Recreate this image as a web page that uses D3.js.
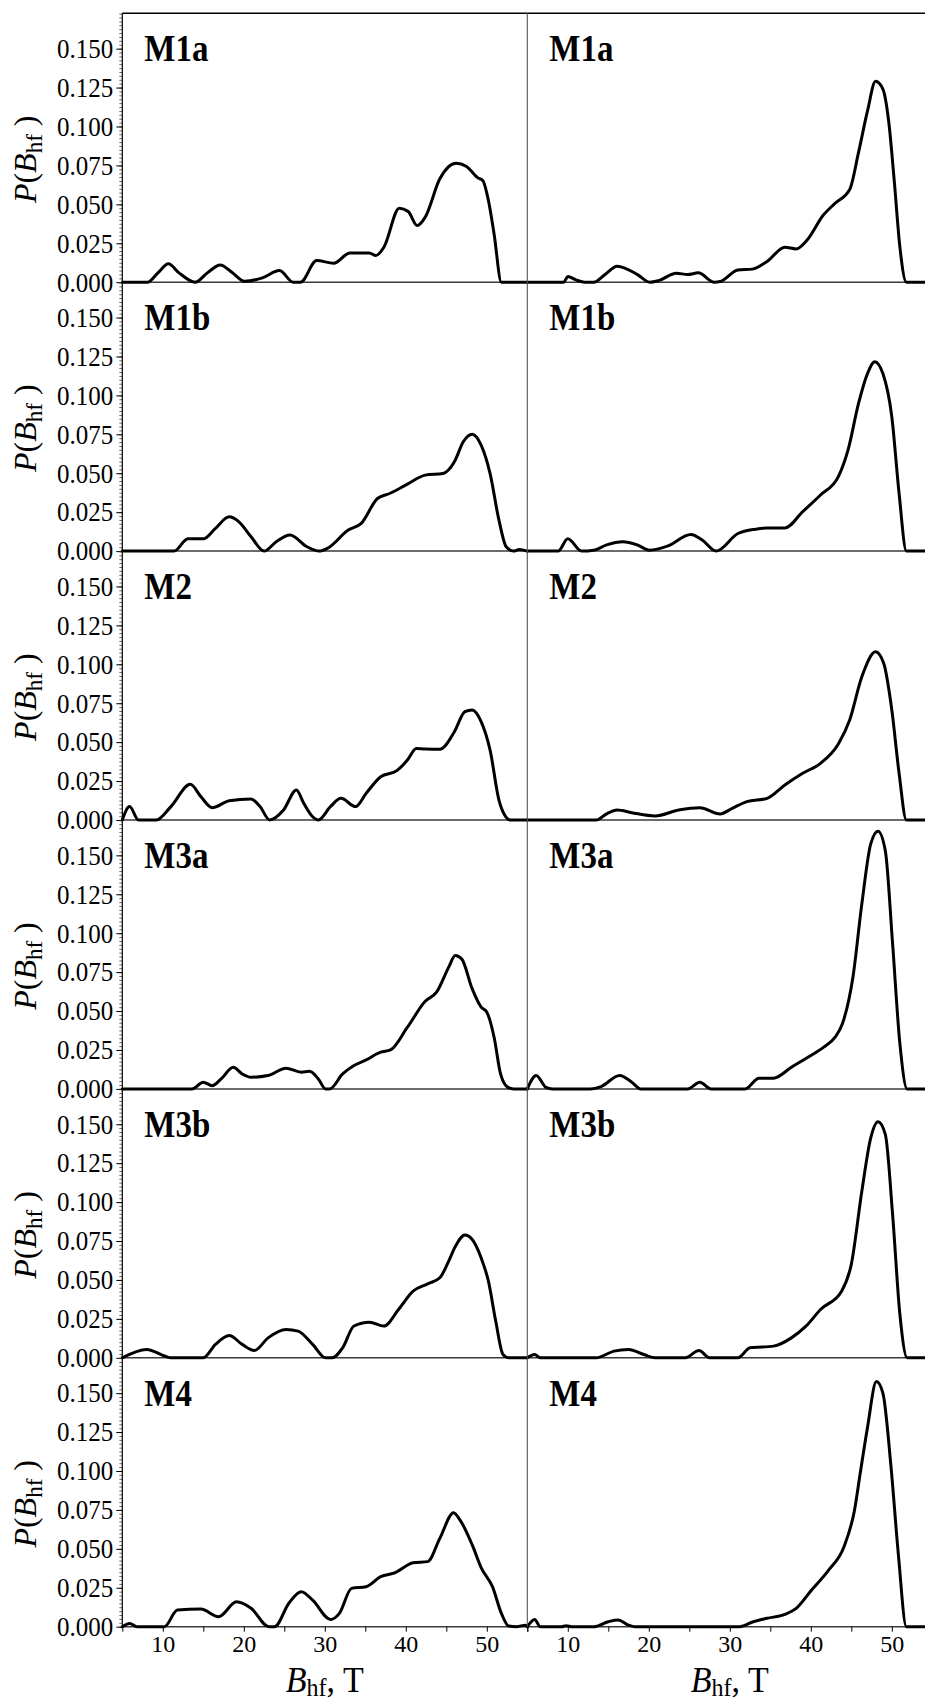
<!DOCTYPE html>
<html>
<head>
<meta charset="utf-8">
<script src="https://cdn.jsdelivr.net/npm/d3@7"></script>
<style>
  html, body { margin: 0; padding: 0; background: #fff; }
  svg { display: block; }
  text { font-family: "Liberation Serif", "Times New Roman", serif; fill: #000; }
</style>
</head>
<body>
<script>
// Hyperfine field distributions P(Bhf): six samples, two spectra each.
const panelLabels = ["M1a", "M1b", "M2", "M3a", "M3b", "M4"];

const yTickValues = [0, 0.025, 0.05, 0.075, 0.1, 0.125, 0.15];
const xTickLabels = [10, 20, 30, 40, 50];

// [Bhf (T), P(Bhf)] pairs, left column
const m1aLeft = [[5,0],[8.1,0],[9.4,0.006],[10.7,0.0118],[12,0.006],[14,0],[15.5,0.006],[17.1,0.0111],[18.6,0.006],[20.1,0.0006],[22.3,0.0028],[24.4,0.0075],[26.1,0],[27,0],[29,0.0139],[31.1,0.0122],[33.1,0.0188],[35.5,0.0188],[36.3,0.0171],[37.3,0.0225],[39.2,0.0475],[40.3,0.0454],[41.4,0.0364],[42.4,0.0418],[44.2,0.0664],[46.2,0.0764],[47.5,0.0743],[48.9,0.067],[49.5,0.0653],[50.2,0.0525],[50.9,0.031],[51.8,0],[55,0]];
const m1bLeft = [[5,0],[11.4,0],[13.1,0.0079],[15,0.0079],[16.5,0.0146],[18.2,0.022],[19.4,0.0188],[20.9,0.0092],[22.5,0],[24,0.006],[25.7,0.0103],[27.8,0.0028],[29.3,0],[30.3,0.0017],[32.9,0.0135],[34.5,0.0178],[36.5,0.0338],[38,0.037],[40.2,0.043],[42.4,0.0488],[44.6,0.0499],[46,0.0574],[47.1,0.0702],[48.2,0.075],[49.3,0.068],[50.4,0.0499],[51.5,0.0199],[52.4,0.0028],[53.3,0],[54,0.001],[55,0]];
const m2Left = [[5,0],[5.9,0.0086],[7,0],[9.2,0],[11,0.0086],[13.4,0.0229],[14.7,0.015],[16.1,0.0079],[18.2,0.0124],[20.9,0.0135],[22,0.0086],[23.2,0],[24.9,0.0064],[26.5,0.0193],[27.4,0.0107],[28.5,0.0021],[29.2,0],[30.7,0.0086],[32,0.0139],[33.8,0.0086],[35.1,0.0171],[36.9,0.0278],[38.9,0.0317],[40.2,0.0385],[41.3,0.046],[42.4,0.0456],[44.2,0.0454],[46,0.0567],[47.3,0.0696],[48.2,0.0707],[49.3,0.0632],[50.4,0.045],[51.5,0.0128],[52.2,0.0032],[52.9,0],[55,0]];
const m3aLeft = [[5,0],[13.6,0],[15,0.0043],[16.1,0.0021],[17.2,0.0064],[18.7,0.0139],[19.8,0.0096],[20.9,0.0075],[23,0.0086],[25.2,0.0133],[27.1,0.0107],[28.1,0.0113],[29.2,0.0064],[30.1,0],[30.6,0],[32.2,0.0096],[33.6,0.015],[35.1,0.0186],[36.9,0.0236],[38.1,0.025],[40.2,0.0396],[42.4,0.0563],[43.8,0.0621],[45.3,0.0782],[46.1,0.0857],[46.9,0.0835],[48.2,0.0642],[49.3,0.0525],[50,0.0493],[50.9,0.0332],[51.7,0.0096],[52.6,0.001],[53.3,0],[55,0]];
const m3bLeft = [[5,0],[8,0.0054],[10.3,0.001],[11,0],[15,0],[16.5,0.0086],[18.2,0.0143],[19.8,0.0086],[21.3,0.0047],[23,0.0128],[25.2,0.0182],[26.7,0.0171],[28.5,0.0086],[30.1,0],[30.9,0],[32.2,0.0064],[33.6,0.0204],[35.5,0.0229],[37.3,0.0204],[39.1,0.031],[40.9,0.0428],[42.7,0.0475],[44.2,0.0514],[45.3,0.0621],[46.1,0.0713],[47.3,0.0788],[48.2,0.076],[49.3,0.0642],[50.2,0.0492],[51.1,0.0236],[52,0.0021],[52.7,0],[55,0]];
const m4Left = [[5,0],[5.9,0.0021],[6.8,0],[10.2,0],[11.8,0.0107],[14.7,0.0113],[16.9,0.0064],[19.1,0.016],[20.9,0.0118],[23.1,0],[23.8,0],[25.6,0.0154],[27.1,0.0225],[28.5,0.0171],[30.7,0.0047],[31.8,0.0086],[33.3,0.0246],[35.1,0.0257],[36.9,0.0321],[38.7,0.0347],[40.9,0.0411],[42.7,0.0418],[44.2,0.0567],[45.9,0.0732],[46.7,0.0685],[48.2,0.0525],[49.3,0.0379],[50.7,0.0257],[51.8,0.0086],[52.7,0.0004],[53.7,0],[54.8,0.001],[55,0]];

// right column
const m1aRight = [[5,0],[9.5,0],[10,0.0036],[11,0.0015],[12.1,0],[13.2,0],[14.6,0.005],[16.1,0.0103],[18.6,0.0049],[20.1,0],[21.2,0.001],[23.4,0.0058],[24.8,0.0049],[26.1,0.006],[28.1,0],[28.8,0.0004],[31,0.0079],[32.8,0.0084],[34.6,0.0133],[36.8,0.0225],[38.2,0.0214],[39.6,0.0274],[41.5,0.0428],[43,0.0507],[44.8,0.0595],[45.9,0.0835],[47,0.11],[48,0.129],[48.9,0.124],[49.6,0.104],[50.3,0.0653],[51,0.0225],[51.8,0],[55,0]];
const m1bRight = [[5,0],[8.8,0],[10,0.0079],[11.7,0],[13.2,0.0006],[14.8,0.004],[16.8,0.006],[18.6,0.0039],[20.1,0.0006],[22.3,0.0032],[25.2,0.0107],[26.6,0.0071],[28.3,0],[31,0.0113],[33.2,0.0141],[34.6,0.0148],[36.8,0.0148],[39,0.0253],[41.2,0.036],[43.4,0.0478],[44.6,0.065],[45.9,0.095],[47,0.114],[47.9,0.1216],[48.9,0.114],[50,0.0863],[50.9,0.037],[51.8,0],[55,0]];
const m2Right = [[5,0],[13.5,0],[14.8,0.004],[16.1,0.0064],[17.9,0.0047],[20.8,0.0026],[23.7,0.0064],[26.3,0.0079],[28.8,0.0039],[30.3,0.0075],[32.1,0.0118],[34.6,0.0139],[36.8,0.0225],[39,0.03],[41.2,0.0364],[43.4,0.0488],[44.8,0.0642],[46.3,0.092],[48,0.108],[49,0.1006],[50,0.0707],[50.9,0.03],[51.8,0],[55,0]];
const m3aRight = [[5,0],[6.1,0.0086],[7.3,0.001],[8.1,0],[12.8,0],[14.1,0.0015],[16.4,0.0086],[17.9,0.0043],[19,0],[24.8,0],[26.3,0.0043],[27.7,0],[31.9,0],[33.6,0.0069],[35.4,0.0069],[37.6,0.0139],[39.8,0.0208],[41.6,0.0268],[43,0.0332],[43.9,0.0418],[45.2,0.0717],[46.3,0.1188],[47.4,0.1574],[48.3,0.1655],[49.2,0.153],[50.1,0.0931],[51,0.0289],[51.9,0],[55,0]];
const m3bRight = [[5,0],[5.9,0.0021],[6.6,0],[13.5,0],[15.7,0.0043],[17.5,0.0054],[19.4,0.0021],[20.8,0],[24.5,0],[26.2,0.0047],[27.5,0],[31,0],[32.5,0.0064],[35.4,0.0075],[37.6,0.0128],[39.4,0.0203],[41.2,0.031],[43.8,0.0428],[45,0.06],[46.3,0.107],[47.4,0.1413],[48.3,0.1516],[49.2,0.1435],[50.1,0.092],[51,0.0278],[51.9,0],[55,0]];
const m4Right = [[5,0],[5.9,0.0047],[6.6,0],[9.2,0],[9.8,0.0006],[10.5,0],[13.2,0],[15,0.0032],[16.2,0.0043],[17.5,0.001],[18.3,0],[31.2,0],[32.9,0.0032],[34.6,0.0054],[36.8,0.0079],[38.2,0.0118],[40.1,0.0236],[42.2,0.0364],[44.1,0.0514],[45.4,0.075],[46.1,0.0985],[47,0.128],[48.1,0.1574],[48.9,0.15],[49.9,0.1028],[50.8,0.047],[51.8,0],[55,0]];

const leftSeries  = [m1aLeft, m1bLeft, m2Left, m3aLeft, m3bLeft, m4Left];
const rightSeries = [m1aRight, m1bRight, m2Right, m3aRight, m3bRight, m4Right];

// ---- layout ----
const W = 925, H = 1704;
const plotLeft = 122.3;
const colW = 405;
const plotTop = 13.3;
const rowH = 268.9;
const nRows = panelLabels.length;
const yMax = 0.1727;
const serif = "'Liberation Serif', 'Times New Roman', serif";

const svg = d3.select("body").append("svg")
  .attr("width", W).attr("height", H)
  .attr("viewBox", `0 0 ${W} ${H}`);
svg.append("rect").attr("width", W).attr("height", H).attr("fill", "#fff");

const xLeft  = d3.scaleLinear().domain([5, 55]).range([plotLeft, plotLeft + colW]);
const xRight = d3.scaleLinear().domain([5, 55]).range([plotLeft + colW, plotLeft + 2 * colW]);
const columns = [
  { x: xLeft,  series: leftSeries },
  { x: xRight, series: rightSeries }
];

const bottom = plotTop + nRows * rowH;

for (let r = 0; r < nRows; r++) {
  const top = plotTop + r * rowH;
  const y = d3.scaleLinear().domain([0, yMax]).range([top + rowH, top]);
  const row = svg.append("g");

  // minor y ticks
  row.append("g")
    .attr("transform", `translate(${plotLeft},0)`)
    .call(d3.axisLeft(y).tickValues(d3.range(0, yMax, 0.0025)).tickSize(3).tickFormat(""))
    .call(g => g.select(".domain").remove())
    .call(g => g.selectAll("line").attr("stroke", "#444").attr("stroke-width", 0.8));

  // major y ticks and labels (slightly tall serif digits)
  row.append("g")
    .attr("transform", `translate(${plotLeft},0)`)
    .call(d3.axisLeft(y).tickValues(yTickValues).tickSize(6).tickPadding(3).tickFormat(d3.format(".3f")))
    .call(g => g.select(".domain").remove())
    .call(g => g.selectAll("line").attr("stroke", "#000").attr("stroke-width", 1))
    .call(g => g.selectAll("text")
      .style("font-family", serif)
      .attr("font-size", 25)
      .attr("transform", "scale(1,1.1)")
      .attr("fill", "#000"));

  // zero line of the row
  row.append("line")
    .attr("x1", plotLeft).attr("x2", W)
    .attr("y1", y(0)).attr("y2", y(0))
    .attr("stroke", "#3a3a3a").attr("stroke-width", 1.5);

  // y axis title
  const yt = row.append("text")
    .attr("transform", `translate(36,${top + 146}) rotate(-90)`)
    .attr("text-anchor", "middle")
    .style("font-family", serif)
    .attr("font-size", 32);
  yt.append("tspan").attr("font-style", "italic").text("P");
  yt.append("tspan").text("(");
  yt.append("tspan").attr("font-style", "italic").text("B");
  yt.append("tspan").attr("font-size", 23).attr("dy", 6).text("hf");
  yt.append("tspan").attr("dy", -6).text(" )");

  // curves and sample labels
  columns.forEach(col => {
    const line = d3.line()
      .x(d => col.x(d[0]))
      .y(d => y(d[1]))
      .curve(d3.curveMonotoneX);
    row.append("path")
      .datum(col.series[r])
      .attr("d", line)
      .attr("fill", "none")
      .attr("stroke", "#000")
      .attr("stroke-width", 3)
      .attr("stroke-linejoin", "round")
      .attr("stroke-linecap", "round");

    row.append("text")
      .attr("transform", `translate(${col.x(5) + 22},${top + 48}) scale(1,1.12)`)
      .style("font-family", serif)
      .attr("font-size", 33)
      .attr("font-weight", "bold")
      .text(panelLabels[r]);
  });
}

// frame: top border, left axis, column divider
svg.append("line")
  .attr("x1", plotLeft).attr("x2", W)
  .attr("y1", plotTop).attr("y2", plotTop)
  .attr("stroke", "#000").attr("stroke-width", 1.4);
svg.append("line")
  .attr("x1", plotLeft).attr("x2", plotLeft)
  .attr("y1", plotTop).attr("y2", bottom)
  .attr("stroke", "#000").attr("stroke-width", 1.2);
svg.append("line")
  .attr("x1", xLeft(55)).attr("x2", xLeft(55))
  .attr("y1", plotTop).attr("y2", bottom)
  .attr("stroke", "#555").attr("stroke-width", 1.1);

// bottom x axes
columns.forEach(col => {
  svg.append("g")
    .attr("transform", `translate(0,${bottom})`)
    .call(d3.axisBottom(col.x).tickValues(d3.range(5, 56, 5)).tickSize(5).tickPadding(3)
      .tickFormat(d => xTickLabels.includes(d) ? d : ""))
    .call(g => g.select(".domain").remove())
    .call(g => g.selectAll("line").attr("stroke", "#000").attr("stroke-width", 1))
    .call(g => g.selectAll("text")
      .style("font-family", serif)
      .attr("font-size", 24)
      .attr("fill", "#000"));

  const cx = (col.x(5) + col.x(55)) / 2;
  const xt = svg.append("text")
    .attr("transform", `translate(${cx},${bottom + 65}) scale(1,1.08)`)
    .attr("text-anchor", "middle")
    .style("font-family", serif)
    .attr("font-size", 34);
  xt.append("tspan").attr("font-style", "italic").text("B");
  xt.append("tspan").attr("font-size", 24).attr("dy", 4).text("hf");
  xt.append("tspan").attr("dy", -4).text(", T");
});
</script>
</body>
</html>
